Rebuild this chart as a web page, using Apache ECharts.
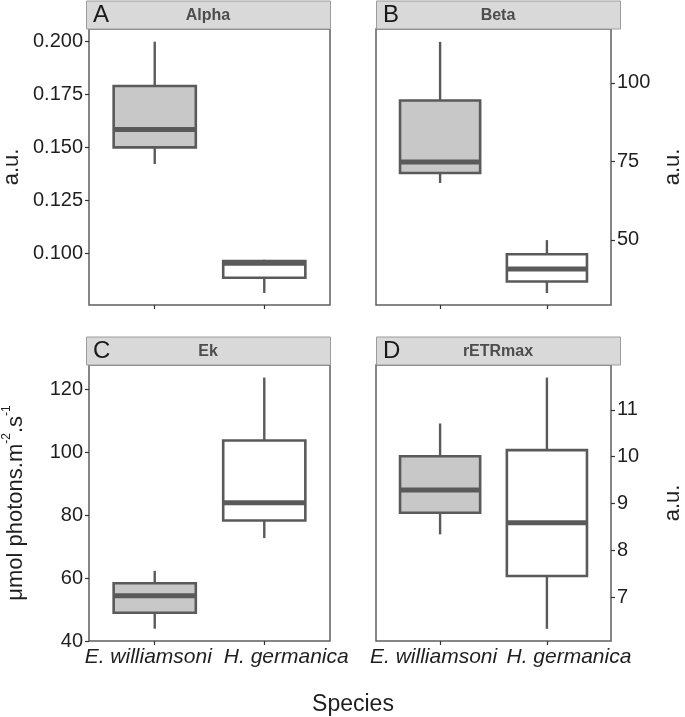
<!DOCTYPE html>
<html>
<head>
<meta charset="utf-8">
<script src="https://cdn.jsdelivr.net/npm/echarts@6/dist/echarts.min.js"></script>
<style>
html,body{margin:0;padding:0;background:#ffffff;}
#chart{width:685px;height:717px;}
</style>
</head>
<body>
<div id="chart"></div>
<script>
// ---------------- data ----------------
const species = ['E. williamsoni', 'H. germanica'];
const panelLetters = ['A', 'B', 'C', 'D'];
const panelTitles = ['Alpha', 'Beta', 'Ek', 'rETRmax'];
// [lower whisker, Q1, median, Q3, upper whisker] for each species
const alphaBox = [[0.1421, 0.1500, 0.1584, 0.1790, 0.2000], [0.0811, 0.0883, 0.0951, 0.0962, 0.0968]];
const betaBox  = [[68.1, 71.3, 74.8, 94.4, 113.1], [33.0, 36.7, 40.7, 45.4, 49.9]];
const ekBox    = [[43.9, 49.0, 54.4, 58.35, 62.3], [72.7, 78.3, 83.9, 103.7, 123.7]];
const retrBox  = [[8.34, 8.80, 9.29, 10.01, 10.71], [6.32, 7.45, 8.59, 10.14, 11.69]];
const alphaTicks = [0.100, 0.125, 0.150, 0.175, 0.200];
const betaTicks  = [50, 75, 100];
const ekTicks    = [40, 60, 80, 100, 120];
const retrTicks  = [7, 8, 9, 10, 11];

// ---------------- layout / style ----------------
const FONT = '"Liberation Sans", Arial, Helvetica, sans-serif';
const PW = 244, PH = 276;
const grids = [
  {left: 86,  top: 29,  width: PW, height: PH},
  {left: 376, top: 29,  width: PW, height: PH},
  {left: 86,  top: 365, width: PW, height: PH},
  {left: 376, top: 365, width: PW, height: PH}
];
const STRIP_H = 28;
const boxFills = ['#c8c8c8', '#ffffff'];
const LINE_COL = '#5a5a5a';
const yRanges = [[0.0754, 0.206], [29.2, 117.2], [40, 127.7], [6.06, 11.96]];
const yTickSets = [alphaTicks, betaTicks, ekTicks, retrTicks];
const boxSets = [alphaBox, betaBox, ekBox, retrBox];

function renderBox(params, api) {
  const x = api.value(0);
  const lo = api.coord([x, api.value(1)]);
  const q1 = api.coord([x, api.value(2)]);
  const md = api.coord([x, api.value(3)]);
  const q3 = api.coord([x, api.value(4)]);
  const hi = api.coord([x, api.value(5)]);
  const half = api.size([0.75, 0])[0] / 2;
  const cx = md[0];
  return {
    type: 'group',
    children: [
      {type: 'line', shape: {x1: cx, y1: lo[1], x2: cx, y2: q1[1]}, style: {stroke: LINE_COL, lineWidth: 2.4}},
      {type: 'line', shape: {x1: cx, y1: q3[1], x2: cx, y2: hi[1]}, style: {stroke: LINE_COL, lineWidth: 2.4}},
      {type: 'rect', shape: {x: cx - half, y: q3[1], width: half * 2, height: q1[1] - q3[1]},
        style: {fill: boxFills[params.dataIndex], stroke: LINE_COL, lineWidth: 2.6}},
      {type: 'line', shape: {x1: cx - half, y1: md[1], x2: cx + half, y2: md[1]}, style: {stroke: LINE_COL, lineWidth: 5}}
    ]
  };
}

const xAxes = grids.map((g, i) => ({
  gridIndex: i, type: 'value', min: 0.4, max: 2.6,
  splitLine: {show: false},
  axisLine: {show: false},
  axisTick: {show: true, customValues: [1, 2], length: 4, lineStyle: {color: '#333', width: 1.2}},
  axisLabel: {
    show: i >= 2, customValues: [1, 2], margin: 6,
    formatter: v => (v === 1 ? '{l|' + species[0] + '}' : '{r|' + species[1] + '}'),
    rich: {
      l: {fontFamily: FONT, fontSize: 21, fontStyle: 'italic', color: '#1f1f1f', padding: [0, 13, 0, 0]},
      r: {fontFamily: FONT, fontSize: 21, fontStyle: 'italic', color: '#1f1f1f', padding: [0, 0, 0, 44]}
    }
  }
}));

const yAxes = grids.map((g, i) => {
  const right = (i % 2 === 1);
  const ax = {
    gridIndex: i, type: 'value', position: right ? 'right' : 'left',
    min: yRanges[i][0], max: yRanges[i][1],
    splitLine: {show: false},
    axisLine: {show: false},
    axisTick: {show: true, customValues: yTickSets[i], length: 4, lineStyle: {color: '#333', width: 1.2}},
    axisLabel: {
      customValues: yTickSets[i], margin: 6, fontFamily: FONT, fontSize: 20, color: '#1f1f1f',
      formatter: v => (i === 0 ? v.toFixed(3) : String(v))
    },
    nameLocation: 'middle', nameRotate: 90,
    nameTextStyle: {fontFamily: FONT, fontSize: 22, color: '#1f1f1f'}
  };
  if (i === 0) { ax.name = 'a.u.'; ax.nameGap = 66; }
  if (i === 1) { ax.name = 'a.u.'; ax.nameGap = 51; }
  if (i === 3) { ax.name = 'a.u.'; ax.nameGap = 51; }
  if (i === 2) {
    ax.name = '{n|\u03bcmol photons.m}{s|-2}{n|.s}{s|-1}';
    ax.nameGap = 62;
    ax.nameTextStyle.rich = {
      n: {fontFamily: FONT, fontSize: 22, color: '#1f1f1f', lineHeight: 26, verticalAlign: 'bottom'},
      s: {fontFamily: FONT, fontSize: 12, color: '#1f1f1f', lineHeight: 26, verticalAlign: 'top'}
    };
  }
  return ax;
});

const series = boxSets.map((set, i) => ({
  type: 'custom', xAxisIndex: i, yAxisIndex: i,
  renderItem: renderBox, clip: false,
  encode: {x: 0, y: [1, 2, 3, 4, 5]},
  data: set.map((b, k) => [k + 1].concat(b))
}));

const graphics = [];
grids.forEach((g, i) => {
  graphics.push({
    type: 'rect', left: g.left, top: g.top - STRIP_H - 0.5,
    shape: {x: 0, y: 0, width: g.width, height: STRIP_H},
    style: {fill: '#d9d9d9', stroke: '#9c9c9c', lineWidth: 1}, z: 10
  });
  graphics.push({
    type: 'text', x: g.left + 7, y: g.top - STRIP_H / 2,
    style: {text: panelLetters[i], font: '24px ' + FONT, fill: '#1a1a1a', textVerticalAlign: 'middle'}, z: 11
  });
  graphics.push({
    type: 'text', x: g.left + g.width / 2, y: g.top - STRIP_H / 2 + 1,
    style: {text: panelTitles[i], font: 'bold 16px ' + FONT, fill: '#4d4d4d', textAlign: 'center', textVerticalAlign: 'middle'}, z: 11
  });
});
graphics.push({
  type: 'text', x: 353, y: 705,
  style: {text: 'Species', font: '23px ' + FONT, fill: '#1f1f1f', textAlign: 'center', textVerticalAlign: 'middle'}
});

const chart = echarts.init(document.getElementById('chart'), null, {renderer: 'canvas'});
chart.setOption({
  animation: false,
  backgroundColor: '#ffffff',
  grid: grids.map(g => Object.assign({show: true, borderColor: '#5f5f5f', borderWidth: 1.5, backgroundColor: '#ffffff', containLabel: false}, g)),
  xAxis: xAxes,
  yAxis: yAxes,
  series: series,
  graphic: graphics
});
</script>
</body>
</html>
